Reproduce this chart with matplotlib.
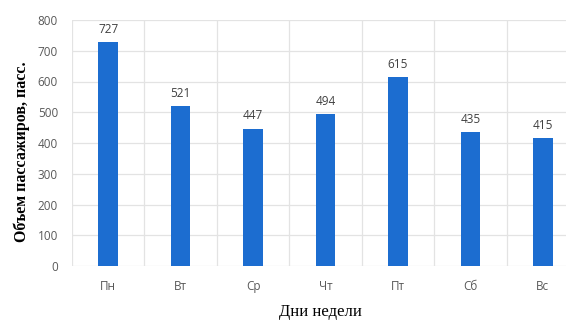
import numpy as np
import matplotlib
matplotlib.use('Agg')
import matplotlib.pyplot as plt

days = ["Пн", "Вт", "Ср", "Чт", "Пт", "Сб", "Вс"]
passengers = [727, 521, 447, 494, 615, 435, 415]
y_ticks = [0, 100, 200, 300, 400, 500, 600, 700, 800]

BAR_COLOR = "#1c6dd0"
TEXT_COLOR = "#595959"

fig = plt.figure(figsize=(5.66, 3.2), dpi=100)
# plot area runs slightly past the right edge of the figure
ax = fig.add_axes([72 / 566, 54 / 320, 507 / 566, 246 / 320])

x = np.arange(len(days))
bars = ax.bar(x, passengers, width=0.27, color=BAR_COLOR, zorder=3)

for bar, val in zip(bars, passengers):
    ax.text(bar.get_x() + bar.get_width() / 2, val + 20, str(val),
            ha="center", va="bottom", fontsize=8.5, color="#404040",
            family="Open Sans")

ax.set_xlim(-0.5, len(days) - 0.5)
ax.set_ylim(0, 800)
ax.set_yticks(y_ticks)
ax.set_xticks(x)
ax.set_xticklabels(days)
ax.set_xticks(np.arange(len(days) + 1) - 0.5, minor=True)

for lbl in ax.get_xticklabels() + ax.get_yticklabels():
    lbl.set_family("Open Sans")
    lbl.set_fontsize(8.5)
    lbl.set_color(TEXT_COLOR)

ax.tick_params(axis="both", which="both", length=0)
ax.tick_params(axis="x", pad=10)
ax.tick_params(axis="y", pad=10)
ax.grid(True, axis="y", color="#e3e3e3", linewidth=0.9, zorder=0)
ax.grid(True, axis="x", which="minor", color="#e3e3e3", linewidth=0.9, zorder=0)
for s in ax.spines.values():
    s.set_visible(False)

fig.text(22 / 566, 0.525, "Объем пассажиров, пасс.", rotation=90,
         ha="center", va="center", fontsize=11.5, fontweight="bold",
         family="Liberation Serif", color="black")
fig.text(320 / 566, 8 / 320, "Дни недели", ha="center", va="center",
         fontsize=12, family="Liberation Serif", color="black")

fig.savefig("out.png", dpi=100)
